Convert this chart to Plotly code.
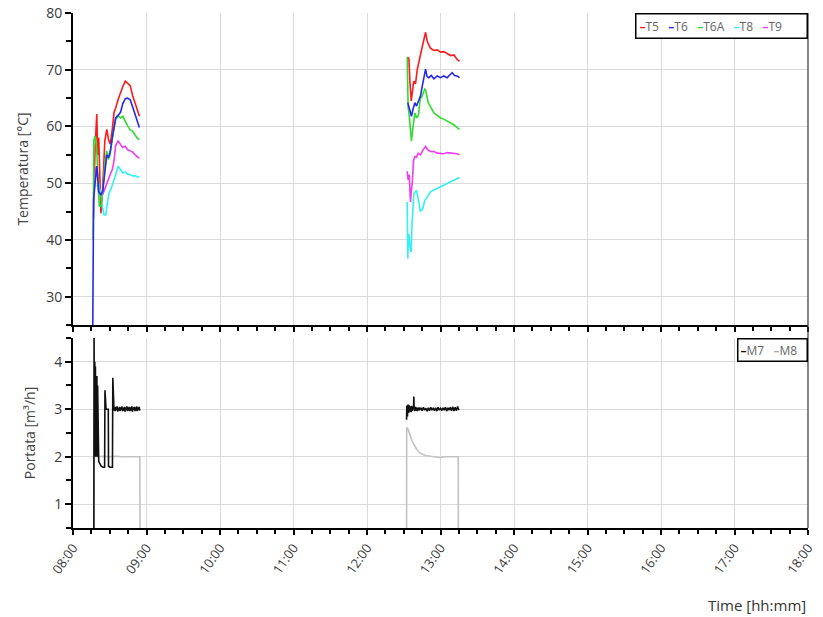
import pandas as pd
import plotly.graph_objects as go

BASE = pd.Timestamp("2021-01-01 08:00")

# ---- Temperature series (minutes after 08:00, °C) ----
T5_t1 = [17.0, 18.0, 19.4, 20.2, 21.0, 22.0, 22.8, 24.2, 26.0, 27.6, 28.9, 30.3, 32.1, 33.5, 34.8, 36.9, 38.8, 40.6, 42.7, 44.6, 46.7, 48.6, 50.7, 52.6, 54.2]
T5_v1 = [48.0, 56.0, 62.2, 55.0, 58.0, 47.0, 44.7, 49.0, 57.5, 59.5, 57.8, 56.9, 59.5, 62.5, 63.2, 64.8, 66.0, 67.0, 68.0, 67.6, 67.2, 65.5, 64.0, 62.5, 61.8]
T5_t2 = [272.8, 274.2, 275.0, 276.1, 277.0, 278.2, 279.6, 281.0, 282.9, 284.5, 286.5, 287.8, 289.0, 289.9, 291.8, 294.6, 297.3, 300.0, 302.7, 305.4, 308.2, 310.9, 313.6, 315.5]
T5_v2 = [72.2, 72.0, 68.0, 64.5, 66.0, 68.0, 67.5, 70.0, 71.9, 73.5, 75.5, 76.6, 75.2, 74.6, 73.8, 73.4, 73.5, 73.1, 73.2, 72.8, 72.5, 72.6, 71.8, 71.5]

T6_t1 = [16.0, 16.8, 18.0, 19.5, 21.0, 22.8, 24.2, 26.0, 27.6, 28.9, 30.3, 32.1, 33.5, 34.8, 36.9, 38.8, 40.6, 42.7, 44.6, 46.7, 48.6, 50.7, 52.6, 54.2]
T6_v1 = [20.0, 47.0, 50.0, 53.0, 48.5, 48.0, 48.5, 52.0, 55.0, 54.5, 55.5, 58.0, 60.0, 61.5, 62.0, 62.5, 64.0, 64.9, 65.0, 64.7, 63.5, 62.0, 61.0, 59.8]
T6_t2 = [273.3, 274.2, 275.5, 276.3, 277.5, 279.1, 280.4, 282.0, 283.7, 285.0, 286.5, 287.8, 289.0, 290.5, 292.5, 294.6, 297.3, 300.0, 302.7, 305.4, 308.2, 309.5, 311.5, 313.6, 315.5]
T6_v2 = [64.2, 63.5, 62.5, 61.8, 63.0, 64.2, 63.6, 64.5, 65.4, 67.0, 69.0, 70.1, 68.8, 68.6, 69.0, 68.4, 68.9, 68.6, 68.9, 68.6, 69.2, 69.5, 69.0, 68.9, 68.6]

T6A_t1 = [16.5, 17.0, 18.0, 19.4, 20.5, 21.5, 22.8, 24.2, 26.0, 27.6, 28.9, 30.3, 32.1, 33.5, 34.8, 36.9, 38.8, 40.6, 42.7, 44.6, 46.7, 48.6, 50.7, 52.6, 54.2]
T6A_v1 = [40.0, 57.5, 58.3, 56.0, 50.0, 46.0, 45.9, 48.5, 53.5, 55.7, 54.2, 55.0, 58.0, 60.1, 61.2, 61.9, 61.5, 61.8, 60.8, 60.1, 59.4, 59.2, 58.5, 57.9, 57.7]
T6A_t2 = [272.8, 273.3, 273.6, 274.2, 275.5, 276.3, 277.3, 279.1, 280.4, 282.0, 283.7, 284.5, 286.0, 287.2, 287.8, 289.9, 291.8, 294.6, 297.3, 300.0, 302.7, 305.4, 308.2, 310.9, 313.6, 315.5]
T6A_v2 = [72.2, 66.0, 63.3, 62.5, 60.0, 57.4, 59.5, 62.4, 61.5, 62.0, 65.4, 65.0, 66.0, 66.6, 66.5, 64.2, 63.5, 62.4, 62.0, 61.5, 61.3, 61.0, 60.6, 60.3, 59.8, 59.5]

T8_t1 = [19.4, 21.0, 22.8, 24.2, 25.5, 26.8, 28.0, 29.5, 31.0, 32.5, 34.0, 35.5, 36.9, 38.8, 40.6, 42.7, 44.6, 46.7, 48.6, 50.7, 52.6, 54.2]
T8_v1 = [49.5, 49.8, 48.0, 45.5, 44.4, 44.4, 46.5, 48.3, 49.0, 50.0, 50.6, 52.0, 53.0, 52.3, 51.8, 52.0, 51.6, 51.5, 51.3, 51.3, 51.1, 51.0]
T8_t2 = [272.8, 273.3, 273.9, 274.5, 275.2, 276.1, 276.8, 278.2, 279.6, 280.4, 282.0, 283.7, 285.5, 287.2, 289.0, 291.8, 294.6, 297.3, 300.0, 302.7, 305.4, 308.2, 310.9, 313.6, 315.5]
T8_v2 = [46.7, 36.7, 41.1, 40.5, 38.5, 37.9, 43.0, 48.2, 48.5, 48.8, 47.0, 45.0, 45.5, 47.0, 47.5, 48.5, 48.8, 49.1, 49.3, 49.7, 50.0, 50.3, 50.5, 50.9, 51.0]

T9_t1 = [16.8, 17.2, 18.5, 19.5, 21.0, 22.8, 24.2, 26.0, 27.6, 28.9, 30.3, 32.1, 33.5, 34.8, 36.9, 38.8, 40.6, 42.7, 44.6, 46.7, 48.6, 50.7, 52.6, 54.2]
T9_v1 = [44.0, 48.6, 52.5, 53.0, 48.0, 48.0, 48.0, 49.0, 50.0, 50.5, 51.5, 52.4, 54.0, 56.6, 57.5, 56.8, 56.3, 56.5, 55.9, 55.7, 55.5, 55.0, 54.6, 54.4]
T9_t2 = [272.8, 273.6, 274.5, 275.5, 276.3, 276.9, 278.0, 279.1, 280.4, 281.8, 283.7, 285.5, 287.8, 289.5, 291.8, 294.6, 297.3, 300.0, 302.7, 305.4, 308.2, 310.9, 313.6, 315.5]
T9_v2 = [52.1, 50.6, 51.5, 46.7, 49.0, 50.0, 54.0, 54.7, 54.6, 55.3, 55.0, 55.8, 56.5, 55.9, 55.6, 55.6, 55.3, 55.3, 55.2, 55.4, 55.3, 55.3, 55.2, 55.0]

# ---- Flow series (minutes after 08:00, m³/h) ----
M7_t1 = [17.0, 17.2, 17.5, 17.8, 18.0, 18.3, 18.6, 18.9, 19.2, 19.5, 19.8, 20.1, 20.4, 21.0, 22.0, 23.0, 24.5, 25.8, 26.1, 26.4, 27.0, 28.0, 28.8, 29.0, 30.0, 31.0, 32.2, 32.5, 33.0,
         33.5, 34.0, 34.5, 35.0, 35.5, 36.0, 36.5, 37.0, 37.5, 38.0, 38.5, 39.0, 39.5, 40.0, 40.5, 41.0, 41.5, 42.0, 42.5, 43.0, 43.5, 44.0, 44.5, 45.0, 45.5, 46.0, 46.5,
         47.0, 47.5, 48.0, 48.5, 49.0, 49.5, 50.0, 50.5, 51.0, 51.5, 52.0, 52.5, 53.0, 53.5, 54.0, 54.5]
M7_v1 = [0.0, 4.6, 2.0, 4.0, 2.0, 3.9, 2.1, 3.7, 2.0, 3.7, 2.0, 3.5, 2.0, 1.9, 1.85, 1.8, 1.78, 1.78, 3.4, 3.05, 3.0, 3.0, 3.0, 1.8, 1.78, 1.78, 1.78, 3.66, 3.1,
         2.97, 3.04, 2.96, 3.05, 2.98, 3.06, 2.95, 3.03, 2.97, 3.05, 2.96, 3.04, 2.98, 3.06, 2.96, 3.03, 2.97, 3.05, 2.95, 3.04, 2.98, 3.06, 2.96, 3.04, 2.97, 3.05, 2.96,
         3.04, 2.97, 3.06, 2.95, 3.04, 2.98, 3.05, 2.96, 3.04, 2.97, 3.06, 2.96, 3.04, 2.98, 3.05, 2.97]
M7_t2 = [272.3, 272.5, 273.0, 273.5, 274.0, 274.5, 275.0, 275.5, 276.0, 276.5, 277.0, 277.5, 278.0, 278.2, 278.5, 279.0, 279.5, 280.0, 280.5, 281.0, 281.5, 282.0, 282.5, 283.0,
         284.0, 285.0, 286.0, 287.0, 288.0, 289.0, 290.0, 291.0, 292.0, 293.0, 294.0, 295.0, 296.0, 297.0, 298.0, 299.0, 300.0, 301.0, 302.0, 303.0, 304.0, 305.0,
         306.0, 307.0, 308.0, 309.0, 310.0, 311.0, 312.0, 313.0, 314.0, 315.0]
M7_v2 = [2.78, 3.08, 2.85, 3.1, 2.92, 3.08, 2.95, 3.06, 2.94, 3.07, 2.96, 3.05, 3.0, 3.27, 3.02, 2.96, 3.05, 2.97, 3.04, 2.96, 3.03, 2.97, 3.04, 2.98,
         3.03, 2.97, 3.04, 2.98, 3.02, 2.96, 3.03, 2.97, 3.04, 2.98, 3.02, 2.97, 3.03, 2.96, 3.04, 2.98, 3.02, 2.97, 3.03, 2.98, 3.04, 2.96,
         3.03, 2.98, 3.04, 2.97, 3.05, 2.96, 3.04, 2.97, 3.06, 2.98]

M8_t1 = [17.2, 17.3, 20.0, 25.0, 30.0, 35.0, 40.0, 45.0, 50.0, 54.6, 54.7]
M8_v1 = [0.0, 2.0, 2.0, 2.01, 2.0, 2.01, 2.0, 2.0, 2.0, 2.0, 0.0]
M8_t2 = [272.3, 272.4, 273.5, 274.5, 275.5, 277.0, 279.6, 281.5, 283.7, 286.0, 289.1, 292.0, 295.0, 298.0, 300.0, 303.0, 305.0, 308.0, 310.0, 312.0, 314.5, 314.6]
M8_v2 = [0.0, 2.62, 2.58, 2.5, 2.43, 2.32, 2.2, 2.12, 2.07, 2.04, 2.02, 2.01, 2.0, 1.99, 1.98, 2.0, 2.0, 1.99, 1.99, 2.0, 2.0, 0.0]

TEMP_SERIES = [
    ("T5", "#ff1a1a", [(T5_t1, T5_v1), (T5_t2, T5_v2)]),
    ("T8", "#33f0f5", [(T8_t1, T8_v1), (T8_t2, T8_v2)]),
    ("T9", "#f03cf0", [(T9_t1, T9_v1), (T9_t2, T9_v2)]),
    ("T6A", "#2fdc2f", [(T6A_t1, T6A_v1), (T6A_t2, T6A_v2)]),
    ("T6", "#2828f0", [(T6_t1, T6_v1), (T6_t2, T6_v2)]),
]
FLOW_SERIES = [
    ("M8", "#c3c3c3", [(M8_t1, M8_v1), (M8_t2, M8_v2)]),
    ("M7", "#111111", [(M7_t1, M7_v1), (M7_t2, M7_v2)]),
]

def to_time(mins):
    return [BASE + pd.Timedelta(minutes=m) for m in mins]

fig = go.Figure()
for name, color, segs in TEMP_SERIES:
    for t, v in segs:
        fig.add_trace(go.Scatter(x=to_time(t), y=v, mode="lines", name=name,
                                 line=dict(color=color, width=1.6), showlegend=False,
                                 xaxis="x", yaxis="y"))
for name, color, segs in FLOW_SERIES:
    for t, v in segs:
        fig.add_trace(go.Scatter(x=to_time(t), y=v, mode="lines", name=name,
                                 line=dict(color=color, width=1.6), showlegend=False,
                                 xaxis="x2", yaxis="y2"))

xr = [BASE, BASE + pd.Timedelta(hours=10)]
grid = "#dadada"
tickfont = dict(family="Open Sans, Liberation Sans, sans-serif", size=14, color="#3a3a3a")
common_x = dict(range=xr, type="date", tick0=BASE, dtick=3600000, showgrid=True, gridcolor=grid,
                gridwidth=1, showline=True, linecolor="black", linewidth=2, ticks="outside",
                ticklen=5, tickwidth=1.5, tickcolor="black", zeroline=False, automargin=False,
                ticklabeloverflow="allow",
                minor=dict(dtick=900000, ticks="outside", ticklen=4, tickcolor="black", showgrid=False))
# inside tick overlays so the ticks cross the axis lines
inner_x = dict(range=xr, type="date", tick0=BASE, dtick=3600000, showgrid=False, showline=False,
               ticks="inside", ticklen=5, tickwidth=1.5, tickcolor="black", zeroline=False,
               showticklabels=False, automargin=False,
               minor=dict(dtick=900000, ticks="inside", ticklen=4, tickcolor="black", showgrid=False))
common_y = dict(showgrid=True, gridcolor=grid, gridwidth=1, showline=True, linecolor="black",
                linewidth=2, ticks="outside", ticklen=6, tickwidth=1.5, tickcolor="black",
                zeroline=False, tickfont=tickfont, automargin=False, ticklabeloverflow="allow")
inner_y = dict(showgrid=False, showline=False, ticks="inside", ticklen=6, tickwidth=1.5,
               tickcolor="black", zeroline=False, showticklabels=False, automargin=False, side="left")

fig.update_layout(
    width=823, height=617,
    margin=dict(l=73, r=15, t=13, b=89),
    paper_bgcolor="white", plot_bgcolor="white",
    showlegend=False,
    xaxis=dict(domain=[0, 1], anchor="y", showticklabels=False, **common_x),
    yaxis=dict(domain=[0.394, 1], anchor="x", range=[25, 80], tick0=0, dtick=10,
               minor=dict(dtick=5, ticks="outside", ticklen=5, tickcolor="black", showgrid=False),
               title=dict(text="Temperatura [°C]", standoff=14,
                          font=dict(family="Open Sans, sans-serif", size=14, color="#444")),
               **common_y),
    xaxis2=dict(domain=[0, 1], anchor="y2", tickformat="%H:%M", tickangle=-55,
                tickfont=dict(family="Open Sans, sans-serif", size=13, color="#3a3a3a"),
                **common_x),
    yaxis2=dict(domain=[0, 0.369], anchor="x2", range=[0.5, 4.5], tick0=0, dtick=1,
                minor=dict(dtick=0.5, ticks="outside", ticklen=5, tickcolor="black", showgrid=False),
                title=dict(text="Portata [m³/h]", standoff=15,
                           font=dict(family="Open Sans, sans-serif", size=14, color="#444")),
                **common_y),
    xaxis3=dict(overlaying="x", anchor="y", **inner_x),
    xaxis4=dict(overlaying="x2", anchor="y2", **inner_x),
    yaxis3=dict(overlaying="y", anchor="x", range=[25, 80], tick0=0, dtick=10,
                minor=dict(dtick=5, ticks="inside", ticklen=5, tickcolor="black", showgrid=False),
                **inner_y),
    yaxis4=dict(overlaying="y2", anchor="x2", range=[0.5, 4.5], tick0=0, dtick=1,
                minor=dict(dtick=0.5, ticks="inside", ticklen=5, tickcolor="black", showgrid=False),
                **inner_y),
    font=dict(family="Open Sans, sans-serif"),
)

# right frame line
fig.add_shape(type="line", xref="paper", yref="paper", x0=1, x1=1, y0=0, y1=1,
              line=dict(color="#333", width=1.2))

def legend_text(items):
    parts = []
    for name, color in items:
        parts.append(f"<span style='color:{color}'><b>–</b></span>{name}")
    return "&nbsp;&nbsp;&nbsp;".join(parts)

fig.add_annotation(xref="paper", yref="paper", x=1, y=1, xanchor="right", yanchor="top",
                   text=legend_text([("T5", "#ff1a1a"), ("T6", "#2828f0"), ("T6A", "#2fdc2f"),
                                     ("T8", "#33f0f5"), ("T9", "#f03cf0")]),
                   showarrow=False, bgcolor="white", bordercolor="black", borderwidth=1.5,
                   borderpad=3, align="left", width=164,
                   font=dict(family="Open Sans, sans-serif", size=12, color="#666"))
fig.add_annotation(xref="paper", yref="paper", x=1, y=0.369, xanchor="right", yanchor="top",
                   text=legend_text([("M7", "#111111"), ("M8", "#aaaaaa")]),
                   showarrow=False, bgcolor="white", bordercolor="black", borderwidth=1.5,
                   borderpad=2, align="left", width=64,
                   font=dict(family="Open Sans, sans-serif", size=12, color="#666"))
fig.add_annotation(xref="paper", yref="paper", x=1, y=-0.15, xanchor="right", yanchor="middle",
                   text="Time [hh:mm]", showarrow=False,
                   font=dict(family="Open Sans, sans-serif", size=15, color="#333"))

fig.write_html("out.html", config={"displayModeBar": False},
               post_script="document.body.style.margin='0';document.body.style.overflow='hidden';")
